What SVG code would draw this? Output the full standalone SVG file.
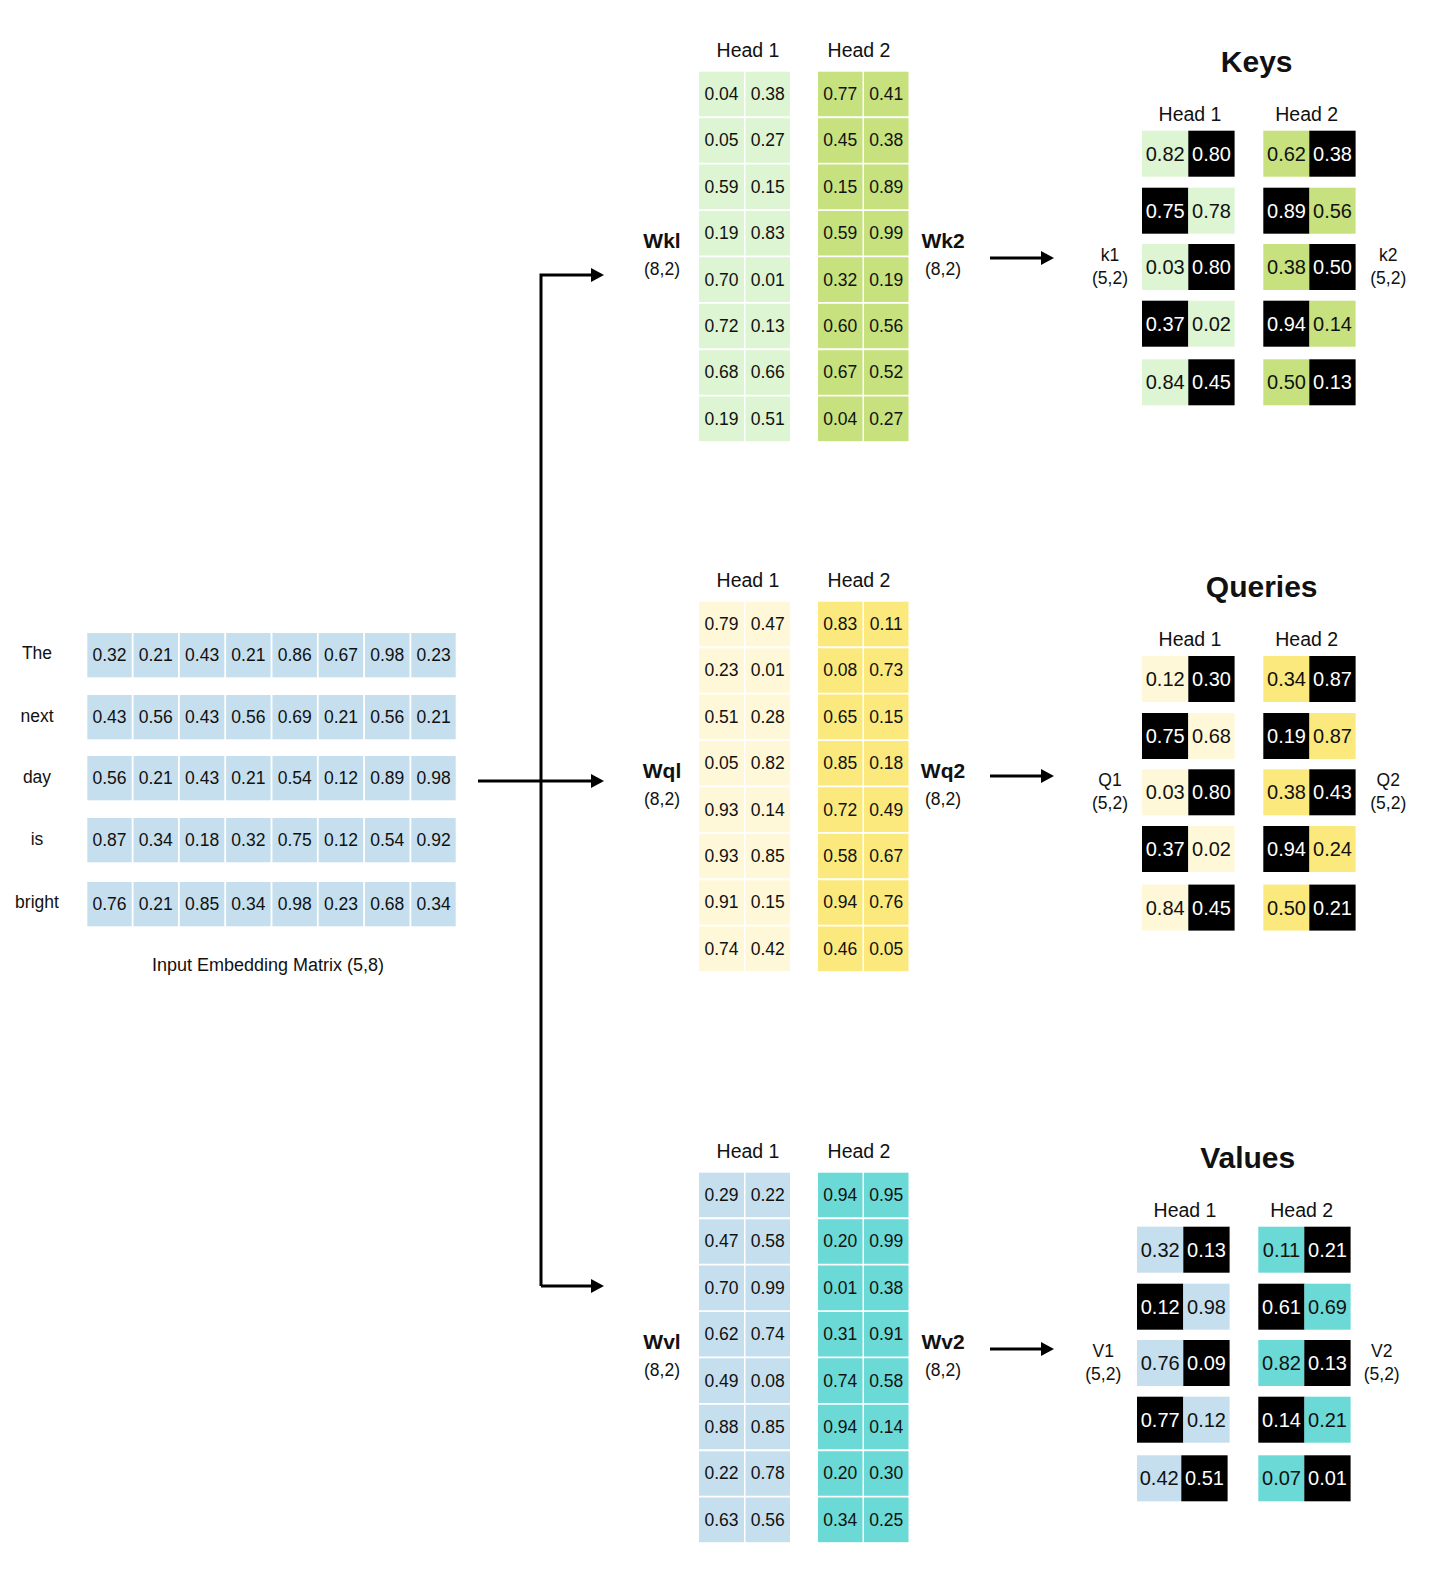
<svg xmlns="http://www.w3.org/2000/svg" width="1456" height="1587" viewBox="0 0 1456 1587">
<defs>
<style>
text{font-family:"Liberation Sans",Arial,sans-serif;fill:#111;text-anchor:middle;dominant-baseline:central}
.n{font-size:17.5px}
.cap{font-size:18px}
.o{font-size:20px}
.wt{fill:#fff}
.h{font-size:19.5px}
.t{font-size:30px;font-weight:bold}
.lb{font-size:21px;font-weight:bold}
.sep{stroke:#fff;stroke-width:1.8}
.conn{fill:none;stroke:#000;stroke-width:3}
.blk{fill:#000}
.kg1{fill:#ddf5d3}.kg2{fill:#c6e17d}
.qy1{fill:#fff8d8}.qy2{fill:#fce97e}
.vb1{fill:#c6dfee}.vb2{fill:#6bd9d6}
</style>
<marker id="ah" markerUnits="userSpaceOnUse" markerWidth="14" markerHeight="14" refX="7" refY="7" orient="auto">
<path d="M0,0 L13,7 L0,14 z" fill="#000"/>
</marker>
</defs>
<rect width="1456" height="1587" fill="#fff"/>

<g id="connectors">
<path class="conn" d="M478 781 H598" marker-end="url(#ah)"/>
<path class="conn" d="M541 1286 V275 H598" marker-end="url(#ah)"/>
<path class="conn" d="M541 1286 H598" marker-end="url(#ah)"/>
<path class="conn" d="M990 258 H1048" marker-end="url(#ah)"/>
<path class="conn" d="M990 776 H1048" marker-end="url(#ah)"/>
<path class="conn" d="M990 1349 H1048" marker-end="url(#ah)"/>
</g>

<g id="input-embedding">
<rect class="vb1" x="87.3" y="633" width="368.4" height="44.3"/>
<rect class="vb1" x="87.3" y="695" width="368.4" height="44.3"/>
<rect class="vb1" x="87.3" y="756" width="368.4" height="44.3"/>
<rect class="vb1" x="87.3" y="818" width="368.4" height="44.3"/>
<rect class="vb1" x="87.3" y="882" width="368.4" height="44.3"/>
<path class="sep" stroke-width="2" d="M132.6 630V930M178.9 630V930M225.2 630V930M271.5 630V930M317.8 630V930M364.1 630V930M410.4 630V930"/>
<text class="n" x="37" y="653">The</text>
<text class="n" x="37" y="716">next</text>
<text class="n" x="37" y="777">day</text>
<text class="n" x="37" y="839">is</text>
<text class="n" x="37" y="902">bright</text>
<g class="n">
<text class="n" x="109.5" y="655">0.32</text><text class="n" x="155.8" y="655">0.21</text><text class="n" x="202.1" y="655">0.43</text><text class="n" x="248.4" y="655">0.21</text><text class="n" x="294.7" y="655">0.86</text><text class="n" x="341" y="655">0.67</text><text class="n" x="387.3" y="655">0.98</text><text class="n" x="433.6" y="655">0.23</text>
<text class="n" x="109.5" y="717">0.43</text><text class="n" x="155.8" y="717">0.56</text><text class="n" x="202.1" y="717">0.43</text><text class="n" x="248.4" y="717">0.56</text><text class="n" x="294.7" y="717">0.69</text><text class="n" x="341" y="717">0.21</text><text class="n" x="387.3" y="717">0.56</text><text class="n" x="433.6" y="717">0.21</text>
<text class="n" x="109.5" y="778">0.56</text><text class="n" x="155.8" y="778">0.21</text><text class="n" x="202.1" y="778">0.43</text><text class="n" x="248.4" y="778">0.21</text><text class="n" x="294.7" y="778">0.54</text><text class="n" x="341" y="778">0.12</text><text class="n" x="387.3" y="778">0.89</text><text class="n" x="433.6" y="778">0.98</text>
<text class="n" x="109.5" y="840">0.87</text><text class="n" x="155.8" y="840">0.34</text><text class="n" x="202.1" y="840">0.18</text><text class="n" x="248.4" y="840">0.32</text><text class="n" x="294.7" y="840">0.75</text><text class="n" x="341" y="840">0.12</text><text class="n" x="387.3" y="840">0.54</text><text class="n" x="433.6" y="840">0.92</text>
<text class="n" x="109.5" y="904">0.76</text><text class="n" x="155.8" y="904">0.21</text><text class="n" x="202.1" y="904">0.85</text><text class="n" x="248.4" y="904">0.34</text><text class="n" x="294.7" y="904">0.98</text><text class="n" x="341" y="904">0.23</text><text class="n" x="387.3" y="904">0.68</text><text class="n" x="433.6" y="904">0.34</text>
</g>
<text class="cap" x="268" y="965">Input Embedding Matrix (5,8)</text>
</g>

<g id="wk" transform="translate(0,71.7)">
<text class="h" x="748" y="-22">Head 1</text><text class="h" x="859" y="-22">Head 2</text>
<rect class="kg1" x="699" y="0" width="45" height="369.5"/><rect class="kg1" x="745.5" y="0" width="44.5" height="369.5"/>
<rect class="kg2" x="818" y="0" width="44.5" height="369.5"/><rect class="kg2" x="864" y="0" width="44.5" height="369.5"/>
<path class="sep" d="M699 45.55H909M699 91.95H909M699 138.35H909M699 184.75H909M699 231.15H909M699 277.55H909M699 323.95H909"/>
<text class="lb" x="662" y="169">Wkl</text><text class="n" x="662" y="197.5">(8,2)</text>
<text class="lb" x="943" y="169">Wk2</text><text class="n" x="943" y="197.5">(8,2)</text>
<text class="n" x="721.5" y="22.35">0.04</text><text class="n" x="767.75" y="22.35">0.38</text><text class="n" x="840.25" y="22.35">0.77</text><text class="n" x="886.25" y="22.35">0.41</text>
<text class="n" x="721.5" y="68.75">0.05</text><text class="n" x="767.75" y="68.75">0.27</text><text class="n" x="840.25" y="68.75">0.45</text><text class="n" x="886.25" y="68.75">0.38</text>
<text class="n" x="721.5" y="115.15">0.59</text><text class="n" x="767.75" y="115.15">0.15</text><text class="n" x="840.25" y="115.15">0.15</text><text class="n" x="886.25" y="115.15">0.89</text>
<text class="n" x="721.5" y="161.55">0.19</text><text class="n" x="767.75" y="161.55">0.83</text><text class="n" x="840.25" y="161.55">0.59</text><text class="n" x="886.25" y="161.55">0.99</text>
<text class="n" x="721.5" y="207.95">0.70</text><text class="n" x="767.75" y="207.95">0.01</text><text class="n" x="840.25" y="207.95">0.32</text><text class="n" x="886.25" y="207.95">0.19</text>
<text class="n" x="721.5" y="254.35">0.72</text><text class="n" x="767.75" y="254.35">0.13</text><text class="n" x="840.25" y="254.35">0.60</text><text class="n" x="886.25" y="254.35">0.56</text>
<text class="n" x="721.5" y="300.75">0.68</text><text class="n" x="767.75" y="300.75">0.66</text><text class="n" x="840.25" y="300.75">0.67</text><text class="n" x="886.25" y="300.75">0.52</text>
<text class="n" x="721.5" y="347.15">0.19</text><text class="n" x="767.75" y="347.15">0.51</text><text class="n" x="840.25" y="347.15">0.04</text><text class="n" x="886.25" y="347.15">0.27</text>
</g>

<g id="wq" transform="translate(0,601.7)">
<text class="h" x="748" y="-22">Head 1</text><text class="h" x="859" y="-22">Head 2</text>
<rect class="qy1" x="699" y="0" width="45" height="369.5"/><rect class="qy1" x="745.5" y="0" width="44.5" height="369.5"/>
<rect class="qy2" x="818" y="0" width="44.5" height="369.5"/><rect class="qy2" x="864" y="0" width="44.5" height="369.5"/>
<path class="sep" d="M699 45.55H909M699 91.95H909M699 138.35H909M699 184.75H909M699 231.15H909M699 277.55H909M699 323.95H909"/>
<text class="lb" x="662" y="169">Wql</text><text class="n" x="662" y="197.5">(8,2)</text>
<text class="lb" x="943" y="169">Wq2</text><text class="n" x="943" y="197.5">(8,2)</text>
<text class="n" x="721.5" y="22.35">0.79</text><text class="n" x="767.75" y="22.35">0.47</text><text class="n" x="840.25" y="22.35">0.83</text><text class="n" x="886.25" y="22.35">0.11</text>
<text class="n" x="721.5" y="68.75">0.23</text><text class="n" x="767.75" y="68.75">0.01</text><text class="n" x="840.25" y="68.75">0.08</text><text class="n" x="886.25" y="68.75">0.73</text>
<text class="n" x="721.5" y="115.15">0.51</text><text class="n" x="767.75" y="115.15">0.28</text><text class="n" x="840.25" y="115.15">0.65</text><text class="n" x="886.25" y="115.15">0.15</text>
<text class="n" x="721.5" y="161.55">0.05</text><text class="n" x="767.75" y="161.55">0.82</text><text class="n" x="840.25" y="161.55">0.85</text><text class="n" x="886.25" y="161.55">0.18</text>
<text class="n" x="721.5" y="207.95">0.93</text><text class="n" x="767.75" y="207.95">0.14</text><text class="n" x="840.25" y="207.95">0.72</text><text class="n" x="886.25" y="207.95">0.49</text>
<text class="n" x="721.5" y="254.35">0.93</text><text class="n" x="767.75" y="254.35">0.85</text><text class="n" x="840.25" y="254.35">0.58</text><text class="n" x="886.25" y="254.35">0.67</text>
<text class="n" x="721.5" y="300.75">0.91</text><text class="n" x="767.75" y="300.75">0.15</text><text class="n" x="840.25" y="300.75">0.94</text><text class="n" x="886.25" y="300.75">0.76</text>
<text class="n" x="721.5" y="347.15">0.74</text><text class="n" x="767.75" y="347.15">0.42</text><text class="n" x="840.25" y="347.15">0.46</text><text class="n" x="886.25" y="347.15">0.05</text>
</g>

<g id="wv" transform="translate(0,1172.7)">
<text class="h" x="748" y="-22">Head 1</text><text class="h" x="859" y="-22">Head 2</text>
<rect class="vb1" x="699" y="0" width="45" height="369.5"/><rect class="vb1" x="745.5" y="0" width="44.5" height="369.5"/>
<rect class="vb2" x="818" y="0" width="44.5" height="369.5"/><rect class="vb2" x="864" y="0" width="44.5" height="369.5"/>
<path class="sep" d="M699 45.55H909M699 91.95H909M699 138.35H909M699 184.75H909M699 231.15H909M699 277.55H909M699 323.95H909"/>
<text class="lb" x="662" y="169">Wvl</text><text class="n" x="662" y="197.5">(8,2)</text>
<text class="lb" x="943" y="169">Wv2</text><text class="n" x="943" y="197.5">(8,2)</text>
<text class="n" x="721.5" y="22.35">0.29</text><text class="n" x="767.75" y="22.35">0.22</text><text class="n" x="840.25" y="22.35">0.94</text><text class="n" x="886.25" y="22.35">0.95</text>
<text class="n" x="721.5" y="68.75">0.47</text><text class="n" x="767.75" y="68.75">0.58</text><text class="n" x="840.25" y="68.75">0.20</text><text class="n" x="886.25" y="68.75">0.99</text>
<text class="n" x="721.5" y="115.15">0.70</text><text class="n" x="767.75" y="115.15">0.99</text><text class="n" x="840.25" y="115.15">0.01</text><text class="n" x="886.25" y="115.15">0.38</text>
<text class="n" x="721.5" y="161.55">0.62</text><text class="n" x="767.75" y="161.55">0.74</text><text class="n" x="840.25" y="161.55">0.31</text><text class="n" x="886.25" y="161.55">0.91</text>
<text class="n" x="721.5" y="207.95">0.49</text><text class="n" x="767.75" y="207.95">0.08</text><text class="n" x="840.25" y="207.95">0.74</text><text class="n" x="886.25" y="207.95">0.58</text>
<text class="n" x="721.5" y="254.35">0.88</text><text class="n" x="767.75" y="254.35">0.85</text><text class="n" x="840.25" y="254.35">0.94</text><text class="n" x="886.25" y="254.35">0.14</text>
<text class="n" x="721.5" y="300.75">0.22</text><text class="n" x="767.75" y="300.75">0.78</text><text class="n" x="840.25" y="300.75">0.20</text><text class="n" x="886.25" y="300.75">0.30</text>
<text class="n" x="721.5" y="347.15">0.63</text><text class="n" x="767.75" y="347.15">0.56</text><text class="n" x="840.25" y="347.15">0.34</text><text class="n" x="886.25" y="347.15">0.25</text>
</g>

<g id="keys" transform="translate(0,114)">
<text class="t" x="1256.7" y="-52.5">Keys</text>
<text class="h" x="1190" y="0">Head 1</text><text class="h" x="1306.7" y="0">Head 2</text>
<text class="n" x="1110" y="141">k1</text><text class="n" x="1110" y="164">(5,2)</text>
<text class="n" x="1388.3" y="141">k2</text><text class="n" x="1388.3" y="164">(5,2)</text>
<rect class="kg1" x="1142" y="16.7" width="46.3" height="46"/><rect class="blk" x="1188.3" y="16.7" width="46.3" height="46"/><rect class="kg2" x="1263.3" y="16.7" width="46.3" height="46"/><rect class="blk" x="1309.3" y="16.7" width="46.3" height="46"/>
<rect class="blk" x="1142" y="73.7" width="46.3" height="46"/><rect class="kg1" x="1188.3" y="73.7" width="46.3" height="46"/><rect class="blk" x="1263.3" y="73.7" width="46.3" height="46"/><rect class="kg2" x="1309.3" y="73.7" width="46.3" height="46"/>
<rect class="kg1" x="1142" y="130" width="46.3" height="46"/><rect class="blk" x="1188.3" y="130" width="46.3" height="46"/><rect class="kg2" x="1263.3" y="130" width="46.3" height="46"/><rect class="blk" x="1309.3" y="130" width="46.3" height="46"/>
<rect class="blk" x="1142" y="186.7" width="46.3" height="46"/><rect class="kg1" x="1188.3" y="186.7" width="46.3" height="46"/><rect class="blk" x="1263.3" y="186.7" width="46.3" height="46"/><rect class="kg2" x="1309.3" y="186.7" width="46.3" height="46"/>
<rect class="kg1" x="1142" y="245.3" width="46.3" height="46"/><rect class="blk" x="1188.3" y="245.3" width="46.3" height="46"/><rect class="kg2" x="1263.3" y="245.3" width="46.3" height="46"/><rect class="blk" x="1309.3" y="245.3" width="46.3" height="46"/>
<text class="o" x="1165.2" y="39.7">0.82</text><text class="o wt" x="1211.5" y="39.7">0.80</text><text class="o" x="1286.5" y="39.7">0.62</text><text class="o wt" x="1332.5" y="39.7">0.38</text>
<text class="o wt" x="1165.2" y="96.7">0.75</text><text class="o" x="1211.5" y="96.7">0.78</text><text class="o wt" x="1286.5" y="96.7">0.89</text><text class="o" x="1332.5" y="96.7">0.56</text>
<text class="o" x="1165.2" y="153">0.03</text><text class="o wt" x="1211.5" y="153">0.80</text><text class="o" x="1286.5" y="153">0.38</text><text class="o wt" x="1332.5" y="153">0.50</text>
<text class="o wt" x="1165.2" y="209.7">0.37</text><text class="o" x="1211.5" y="209.7">0.02</text><text class="o wt" x="1286.5" y="209.7">0.94</text><text class="o" x="1332.5" y="209.7">0.14</text>
<text class="o" x="1165.2" y="268.3">0.84</text><text class="o wt" x="1211.5" y="268.3">0.45</text><text class="o" x="1286.5" y="268.3">0.50</text><text class="o wt" x="1332.5" y="268.3">0.13</text>
</g>

<g id="queries" transform="translate(0,639.3)">
<text class="t" x="1261.7" y="-52.5">Queries</text>
<text class="h" x="1190" y="0">Head 1</text><text class="h" x="1306.7" y="0">Head 2</text>
<text class="n" x="1110" y="141">Q1</text><text class="n" x="1110" y="164">(5,2)</text>
<text class="n" x="1388.3" y="141">Q2</text><text class="n" x="1388.3" y="164">(5,2)</text>
<rect class="qy1" x="1142" y="16.7" width="46.3" height="46"/><rect class="blk" x="1188.3" y="16.7" width="46.3" height="46"/><rect class="qy2" x="1263.3" y="16.7" width="46.3" height="46"/><rect class="blk" x="1309.3" y="16.7" width="46.3" height="46"/>
<rect class="blk" x="1142" y="73.7" width="46.3" height="46"/><rect class="qy1" x="1188.3" y="73.7" width="46.3" height="46"/><rect class="blk" x="1263.3" y="73.7" width="46.3" height="46"/><rect class="qy2" x="1309.3" y="73.7" width="46.3" height="46"/>
<rect class="qy1" x="1142" y="130" width="46.3" height="46"/><rect class="blk" x="1188.3" y="130" width="46.3" height="46"/><rect class="qy2" x="1263.3" y="130" width="46.3" height="46"/><rect class="blk" x="1309.3" y="130" width="46.3" height="46"/>
<rect class="blk" x="1142" y="186.7" width="46.3" height="46"/><rect class="qy1" x="1188.3" y="186.7" width="46.3" height="46"/><rect class="blk" x="1263.3" y="186.7" width="46.3" height="46"/><rect class="qy2" x="1309.3" y="186.7" width="46.3" height="46"/>
<rect class="qy1" x="1142" y="245.3" width="46.3" height="46"/><rect class="blk" x="1188.3" y="245.3" width="46.3" height="46"/><rect class="qy2" x="1263.3" y="245.3" width="46.3" height="46"/><rect class="blk" x="1309.3" y="245.3" width="46.3" height="46"/>
<text class="o" x="1165.2" y="39.7">0.12</text><text class="o wt" x="1211.5" y="39.7">0.30</text><text class="o" x="1286.5" y="39.7">0.34</text><text class="o wt" x="1332.5" y="39.7">0.87</text>
<text class="o wt" x="1165.2" y="96.7">0.75</text><text class="o" x="1211.5" y="96.7">0.68</text><text class="o wt" x="1286.5" y="96.7">0.19</text><text class="o" x="1332.5" y="96.7">0.87</text>
<text class="o" x="1165.2" y="153">0.03</text><text class="o wt" x="1211.5" y="153">0.80</text><text class="o" x="1286.5" y="153">0.38</text><text class="o wt" x="1332.5" y="153">0.43</text>
<text class="o wt" x="1165.2" y="209.7">0.37</text><text class="o" x="1211.5" y="209.7">0.02</text><text class="o wt" x="1286.5" y="209.7">0.94</text><text class="o" x="1332.5" y="209.7">0.24</text>
<text class="o" x="1165.2" y="268.3">0.84</text><text class="o wt" x="1211.5" y="268.3">0.45</text><text class="o" x="1286.5" y="268.3">0.50</text><text class="o wt" x="1332.5" y="268.3">0.21</text>
</g>

<g id="values" transform="translate(-5,1210)">
<text class="t" x="1252.7" y="-52.5">Values</text>
<text class="h" x="1190" y="0">Head 1</text><text class="h" x="1306.7" y="0">Head 2</text>
<text class="n" x="1108.3" y="141">V1</text><text class="n" x="1108.3" y="164">(5,2)</text>
<text class="n" x="1386.7" y="141">V2</text><text class="n" x="1386.7" y="164">(5,2)</text>
<rect class="vb1" x="1142" y="16.7" width="46.3" height="46"/><rect class="blk" x="1188.3" y="16.7" width="46.3" height="46"/><rect class="vb2" x="1263.3" y="16.7" width="46.3" height="46"/><rect class="blk" x="1309.3" y="16.7" width="46.3" height="46"/>
<rect class="blk" x="1142" y="73.7" width="46.3" height="46"/><rect class="vb1" x="1188.3" y="73.7" width="46.3" height="46"/><rect class="blk" x="1263.3" y="73.7" width="46.3" height="46"/><rect class="vb2" x="1309.3" y="73.7" width="46.3" height="46"/>
<rect class="vb1" x="1142" y="130" width="46.3" height="46"/><rect class="blk" x="1188.3" y="130" width="46.3" height="46"/><rect class="vb2" x="1263.3" y="130" width="46.3" height="46"/><rect class="blk" x="1309.3" y="130" width="46.3" height="46"/>
<rect class="blk" x="1142" y="186.7" width="46.3" height="46"/><rect class="vb1" x="1188.3" y="186.7" width="46.3" height="46"/><rect class="blk" x="1263.3" y="186.7" width="46.3" height="46"/><rect class="vb2" x="1309.3" y="186.7" width="46.3" height="46"/>
<rect class="vb1" x="1142" y="245.3" width="44.3" height="46"/><rect class="blk" x="1186.3" y="245.3" width="46.3" height="46"/><rect class="vb2" x="1263.3" y="245.3" width="46.3" height="46"/><rect class="blk" x="1309.3" y="245.3" width="46.3" height="46"/>
<text class="o" x="1165.2" y="39.7">0.32</text><text class="o wt" x="1211.5" y="39.7">0.13</text><text class="o" x="1286.5" y="39.7">0.11</text><text class="o wt" x="1332.5" y="39.7">0.21</text>
<text class="o wt" x="1165.2" y="96.7">0.12</text><text class="o" x="1211.5" y="96.7">0.98</text><text class="o wt" x="1286.5" y="96.7">0.61</text><text class="o" x="1332.5" y="96.7">0.69</text>
<text class="o" x="1165.2" y="153">0.76</text><text class="o wt" x="1211.5" y="153">0.09</text><text class="o" x="1286.5" y="153">0.82</text><text class="o wt" x="1332.5" y="153">0.13</text>
<text class="o wt" x="1165.2" y="209.7">0.77</text><text class="o" x="1211.5" y="209.7">0.12</text><text class="o wt" x="1286.5" y="209.7">0.14</text><text class="o" x="1332.5" y="209.7">0.21</text>
<text class="o" x="1164.2" y="268.3">0.42</text><text class="o wt" x="1209.5" y="268.3">0.51</text><text class="o" x="1286.5" y="268.3">0.07</text><text class="o wt" x="1332.5" y="268.3">0.01</text>
</g>
</svg>
